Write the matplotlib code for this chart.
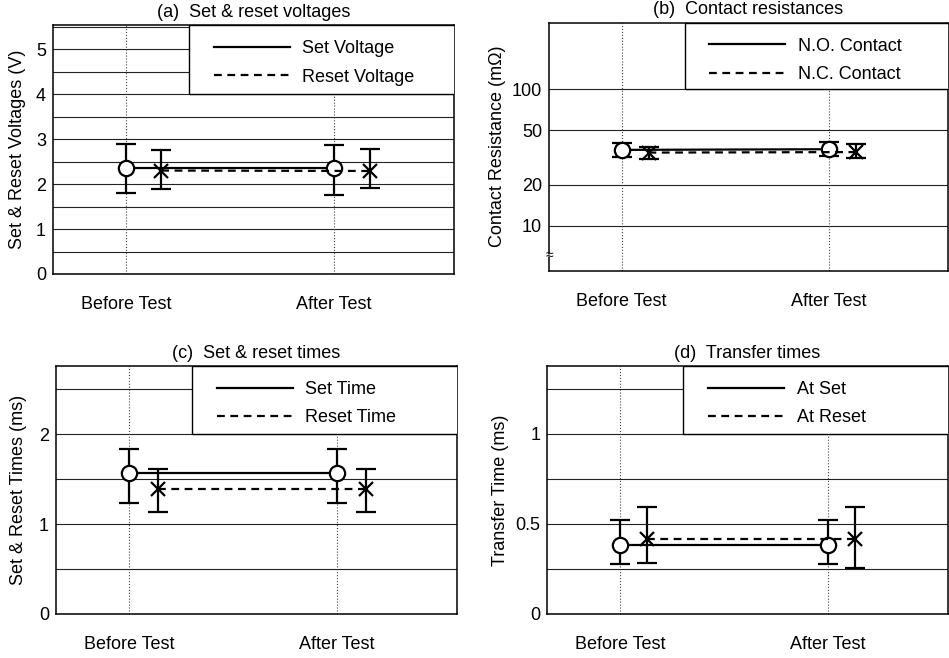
import numpy as np
import matplotlib
matplotlib.use("Agg")
import matplotlib.pyplot as plt
from matplotlib.patches import Rectangle
from matplotlib.ticker import FixedLocator, MultipleLocator, FuncFormatter, NullLocator
import matplotlib.transforms as mtransforms

plt.rcParams['font.family'] = ['Liberation Sans', 'DejaVu Sans']
plt.rcParams['font.size'] = 13

# --- data ---
categories = ['Before Test', 'After Test']
x_pos = np.array([1.0, 2.0])

volt_set = [2.35, 2.35]
volt_set_hi = [2.88, 2.87]
volt_set_lo = [1.79, 1.75]
volt_reset = [2.30, 2.29]
volt_reset_hi = [2.75, 2.79]
volt_reset_lo = [1.88, 1.92]

res_no = [35.9, 36.3]
res_no_hi = [40.6, 41.0]
res_no_lo = [32.1, 32.4]
res_nc = [34.3, 34.6]
res_nc_hi = [37.9, 39.7]
res_nc_lo = [30.7, 31.2]

time_set = [1.57, 1.57]
time_set_hi = [1.84, 1.84]
time_set_lo = [1.24, 1.24]
time_reset = [1.39, 1.39]
time_reset_hi = [1.61, 1.61]
time_reset_lo = [1.14, 1.14]

xfer_set = [0.383, 0.383]
xfer_set_hi = [0.52, 0.52]
xfer_set_lo = [0.278, 0.278]
xfer_reset = [0.418, 0.418]
xfer_reset_hi = [0.593, 0.593]
xfer_reset_lo = [0.285, 0.257]


def err(v, hi, lo):
    v = np.asarray(v); return [v - np.asarray(lo), np.asarray(hi) - v]


def panel(ax, title, ylabel, s, s_hi, s_lo, r, r_hi, r_lo, names, offset,
          ylim, legend_bottom, ylabel_x, log=False):
    if log:
        ax.set_yscale('log')
    ax.set_xlim(0.65, 2.575)
    ax.set_ylim(*ylim)

    ax.grid(True, axis='y', which='both', color='#222222', lw=0.8)
    ax.set_axisbelow(True)
    for xp in x_pos:
        ax.axvline(xp, color='#444444', ls=':', lw=0.8, zorder=1)

    # legend box covering the grid
    tr = mtransforms.blended_transform_factory(ax.transAxes, ax.transData)
    ax.add_patch(Rectangle((0.34, legend_bottom), 0.7, ylim[1] - legend_bottom,
                           transform=tr, facecolor='white', edgecolor='black',
                           lw=1.0, zorder=3, clip_on=True))

    ekw = dict(color='black', lw=1.6, capsize=7, capthick=1.6, zorder=4)
    ax.errorbar(x_pos, s, yerr=err(s, s_hi, s_lo), fmt='none', **ekw)
    ax.errorbar(x_pos + offset, r, yerr=err(r, r_hi, r_lo), fmt='none', **ekw)
    ax.plot(x_pos, s, color='black', lw=1.6, marker='o', ms=11,
            mfc='white', mec='black', mew=1.6, zorder=5, label=names[0])
    ax.plot(x_pos + offset, r, color='black', lw=1.6, ls=(0, (3.5, 2.5)),
            marker='x', ms=10, mec='black', mew=1.6, zorder=5, label=names[1])

    leg = ax.legend(loc='upper left', bbox_to_anchor=(0.37, 0.99), frameon=False,
                    handlelength=4.2, handletextpad=0.7, labelspacing=0.62,
                    borderaxespad=0.3, numpoints=1)
    for h in leg.legend_handles:
        h.set_marker('')
    leg.set_zorder(6)

    ax.set_xticks(x_pos)
    ax.set_xticklabels(categories)
    ax.tick_params(axis='x', length=0, pad=16)
    ax.tick_params(axis='y', which='both', length=0, pad=5)
    for sp in ax.spines.values():
        sp.set_linewidth(1.1)
    ax.set_title(title, pad=6, fontsize=13)
    ax.set_ylabel(ylabel)
    ax.yaxis.set_label_coords(ylabel_x, 0.5)


fig = plt.figure(figsize=(9.49, 6.58), dpi=100)
ax_a = fig.add_axes([0.0558, 0.5836, 0.4225, 0.378])
ax_b = fig.add_axes([0.5785, 0.5886, 0.4205, 0.377])
ax_c = fig.add_axes([0.0590, 0.0669, 0.4222, 0.377])
ax_d = fig.add_axes([0.5767, 0.0669, 0.4219, 0.377])

panel(ax_a, '(a)  Set & reset voltages', 'Set & Reset Voltages (V)',
      volt_set, volt_set_hi, volt_set_lo, volt_reset, volt_reset_hi, volt_reset_lo,
      ['Set Voltage', 'Reset Voltage'], 0.17, (0, 5.53), 4, -0.068)
ax_a.yaxis.set_major_locator(MultipleLocator(1))
ax_a.yaxis.set_minor_locator(MultipleLocator(0.5))

panel(ax_b, '(b)  Contact resistances', 'Contact Resistance (m\u03a9)',
      res_no, res_no_hi, res_no_lo, res_nc, res_nc_hi, res_nc_lo,
      ['N.O. Contact', 'N.C. Contact'], 0.13, (4.68, 307), 100, -0.1075, log=True)
ax_b.yaxis.set_major_locator(FixedLocator([10, 20, 50, 100]))
ax_b.yaxis.set_minor_locator(NullLocator())
ax_b.yaxis.set_major_formatter(FuncFormatter(lambda v, p: '%g' % v))
# axis break mark on the left spine
trb = mtransforms.blended_transform_factory(ax_b.transAxes, ax_b.transData)
ax_b.plot([0, 0], [6.22, 5.98], transform=trb, color='white', lw=2.5,
          zorder=7, clip_on=False, solid_capstyle='butt')
ax_b.text(0.0, 6.1, '\u2248', transform=trb, ha='center', va='center',
          fontsize=10, zorder=8)

panel(ax_c, '(c)  Set & reset times', 'Set & Reset Times (ms)',
      time_set, time_set_hi, time_set_lo, time_reset, time_reset_hi, time_reset_lo,
      ['Set Time', 'Reset Time'], 0.14, (0, 2.76), 2, -0.072)
ax_c.yaxis.set_major_locator(MultipleLocator(1))
ax_c.yaxis.set_minor_locator(MultipleLocator(0.5))

panel(ax_d, '(d)  Transfer times', 'Transfer Time (ms)',
      xfer_set, xfer_set_hi, xfer_set_lo, xfer_reset, xfer_reset_hi, xfer_reset_lo,
      ['At Set', 'At Reset'], 0.128, (0, 1.378), 1, -0.096)
ax_d.yaxis.set_major_locator(FixedLocator([0, 0.5, 1]))
ax_d.yaxis.set_minor_locator(MultipleLocator(0.25))
ax_d.yaxis.set_major_formatter(FuncFormatter(lambda v, p: '%g' % v))

fig.savefig('out.png', dpi=100)
